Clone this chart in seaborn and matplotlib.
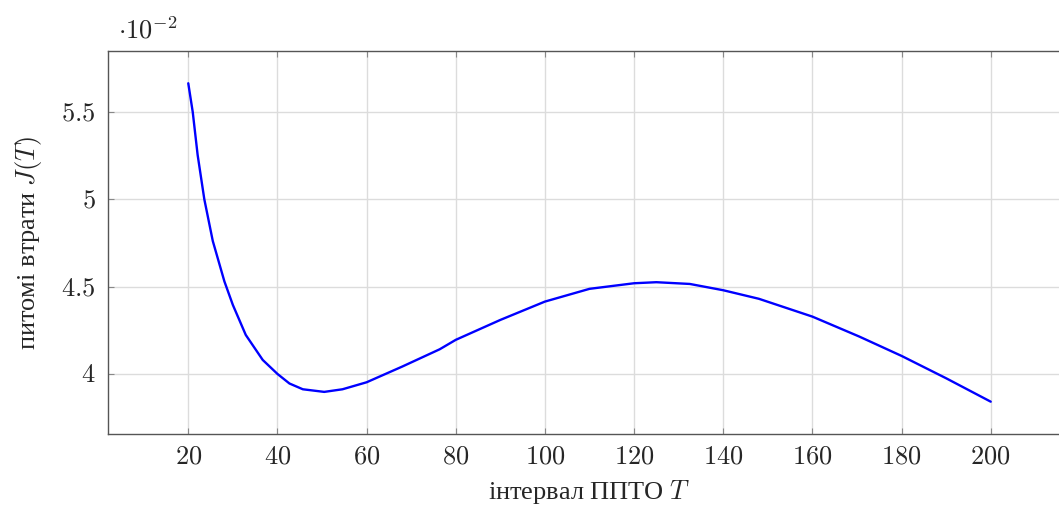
import numpy as np
import pandas as pd
import matplotlib
matplotlib.use("Agg")
import matplotlib.pyplot as plt
import matplotlib.ticker as mticker
import seaborn as sns

sns.set_style("white")
plt.rcParams['font.family'] = ['Liberation Serif', 'DejaVu Serif']
plt.rcParams['mathtext.fontset'] = 'cm'

# values, J in units of 1e-2
T = [20, 21, 22.1, 23.6, 25.5, 28.1, 30, 32.9, 36.7, 40, 42.7, 45.7, 50.5,
     54.6, 60, 68, 76.4, 80, 90, 100, 110, 120, 125, 132.5, 140, 148, 160,
     170.5, 180, 190, 200]
J = [5.664, 5.50, 5.254, 5.0, 4.761, 4.53, 4.395, 4.223, 4.08, 4.0, 3.945,
     3.912, 3.897, 3.912, 3.952, 4.042, 4.141, 4.195, 4.309, 4.414, 4.487,
     4.519, 4.525, 4.515, 4.479, 4.430, 4.328, 4.214, 4.103, 3.975, 3.841]
xticks = [20, 40, 60, 80, 100, 120, 140, 160, 180, 200]
yticks = [4, 4.5, 5, 5.5]

df = pd.DataFrame({'T': T, 'J': J})

fig = plt.figure(figsize=(10.59, 5.08), dpi=100)
ax = fig.add_axes([0.102, 0.1457, 0.9093, 0.754])

sns.lineplot(data=df, x='T', y='J', ax=ax, color='#0000ff', linewidth=1.7)

ax.set_xlim(2, 218)
ax.set_ylim(3.656, 5.849)
ax.xaxis.set_major_locator(mticker.FixedLocator(xticks))
ax.yaxis.set_major_locator(mticker.FixedLocator(yticks))
ax.xaxis.set_major_formatter(mticker.FuncFormatter(lambda v, p: r'$%g$' % v))
ax.yaxis.set_major_formatter(mticker.FuncFormatter(lambda v, p: r'$%g$' % v))

ax.grid(True, color='#dcdcdc', linewidth=1.0)
for s in ax.spines.values():
    s.set_color('#555555')
    s.set_linewidth(1.0)
ax.tick_params(direction='in', length=4, width=0.8, color='#888888',
               labelsize=19, pad=9, top=True, right=True,
               bottom=True, left=True)

ax.set_xlabel(r'інтервал ППТО $T$', fontsize=19, labelpad=7)
ax.set_ylabel(r'питомі втрати $J(T)$', fontsize=19, labelpad=12)

fig.text(118 / 1059, 1 - 30 / 508, r'$\cdot 10^{-2}$', fontsize=19,
         ha='left', va='center')

fig.savefig('out.png', dpi=100)
